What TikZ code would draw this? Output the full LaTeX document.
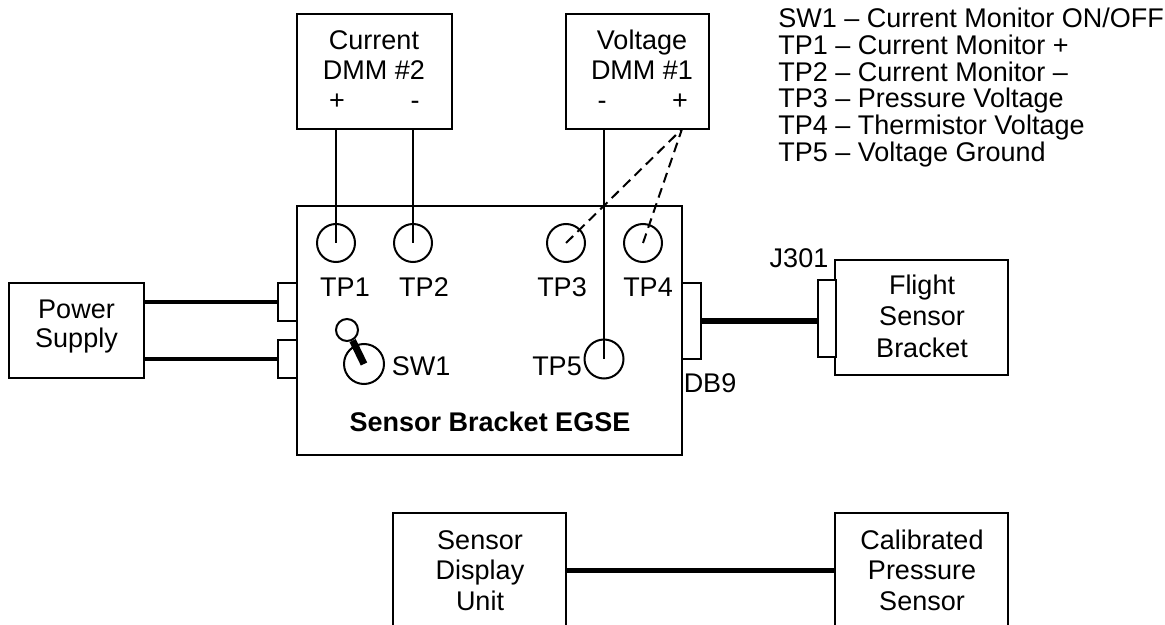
\documentclass[tikz,border=0pt]{standalone}
\usepackage{fontspec}
\setmainfont{Liberation Sans}
\usetikzlibrary{fit}
\begin{document}
\begin{tikzpicture}[x=0.5pt,y=-0.5pt,
  font=\fontsize{13.5}{15}\selectfont,
  box/.style={draw, line width=1pt, inner sep=0pt},
  txt/.style={anchor=base, inner sep=0pt},
  lgd/.style={anchor=base west, inner sep=0pt},
  tp/.style={circle, draw, line width=1pt, minimum size=19pt, inner sep=0pt},
  wire/.style={line width=1pt},
  pwr/.style={line width=2pt},
  dbl/.style={line width=3pt},
  bline/.style={line width=2.5pt},
  dwire/.style={line width=1pt, dash pattern=on 5pt off 3pt}]
\useasboundingbox (0,0) rectangle (1165,625);
\clip (0,0) rectangle (1165,625);

% boxes
\node[box, fit={(9,283) (144,378)}] (ps) {};
\node[box, fit={(297,14) (452,129)}] (dmm2) {};
\node[box, fit={(566,14) (709,129)}] (dmm1) {};
\node[box, fit={(297,206) (682,455)}] (egse) {};
\node[box, fit={(835,260) (1008,375)}] (fsb) {};
\node[box, fit={(393,513) (566,700)}] (sdu) {};
\node[box, fit={(835,513) (1008,700)}] (cps) {};

% connectors
\node[box, fill=white, fit={(278,283) (297,321)}] (c1) {};
\node[box, fill=white, fit={(278,340) (297,378)}] (c2) {};
\node[box, fill=white, fit={(682,283) (701,359)}] (db9) {};
\node[box, fill=white, fit={(818,280) (836,357)}] (j301) {};

% test points
\node[tp] (tp1) at (336,243) {};
\node[tp] (tp2) at (413,243) {};
\node[tp] (tp3) at (566,243) {};
\node[tp] (tp4) at (643,243) {};
\node[tp, minimum size=19.5pt] (tp5) at (604,359) {};

% switch
\node[circle, draw, line width=1pt, minimum size=20pt, inner sep=0pt] (sw) at (364,364) {};
\node[circle, draw, line width=1pt, minimum size=11pt, inner sep=0pt] (knob) at (347,330) {};
\draw[line width=3.5pt] (knob.-62) -- (sw.center);

% texts
\node[txt] (ps1) at (76.5,318) {Power};
\node[txt] (ps2) at (76.5,347) {Supply};
\node[txt] (d21) at (374,50) {Current};
\node[txt] (d22) at (374,80) {DMM \#2};
\node[txt] (d2p) at (337,110) {+};
\node[txt] (d2m) at (415,110) {-};
\node[txt] (d11) at (642,50) {Voltage};
\node[txt] (d12) at (642,80) {DMM \#1};
\node[txt] (d1m) at (602,110) {-};
\node[txt] (d1p) at (680,110) {+};
\node[txt] (tp1l) at (345,297) {TP1};
\node[txt] (tp2l) at (424,297) {TP2};
\node[txt] (tp3l) at (562,297) {TP3};
\node[txt] (tp4l) at (648,297) {TP4};
\node[txt] (sw1l) at (421,375) {SW1};
\node[txt] (tp5l) at (557,375) {TP5};
\node[txt, font=\fontsize{13.5}{15}\selectfont\bfseries] (egt) at (490,431) {Sensor Bracket EGSE};
\node[txt] (j301l) at (799,268) {J301};
\node[txt] (db9l) at (710,392) {DB9};
\node[txt] (f1) at (922,294) {Flight};
\node[txt] (f2) at (922,325) {Sensor};
\node[txt] (f3) at (922,357) {Bracket};
\node[txt] (s1) at (480,549) {Sensor};
\node[txt] (s2) at (480,579) {Display};
\node[txt] (s3) at (480,610) {Unit};
\node[txt] (p1) at (922,549) {Calibrated};
\node[txt] (p2) at (922,579) {Pressure};
\node[txt] (p3) at (922,610) {Sensor};

% legend
\node[lgd] (lg1) at (778,28) {SW1 – Current Monitor ON/OFF};
\node[lgd] (lg2) at (778,55) {TP1 – Current Monitor +};
\node[lgd] (lg3) at (778,82) {TP2 – Current Monitor –};
\node[lgd] (lg4) at (778,108) {TP3 – Pressure Voltage};
\node[lgd] (lg5) at (778,135) {TP4 – Thermistor Voltage};
\node[lgd] (lg6) at (778,162) {TP5 – Voltage Ground};

% wires
\draw[wire] (tp1.center |- dmm2.south) -- (tp1.center);
\draw[wire] (tp2.center |- dmm2.south) -- (tp2.center);
\draw[wire] (tp5.center |- dmm1.south) -- (tp5.center);
\coordinate (vplus) at (682,129);
\draw[dwire] (tp3.center) -- (vplus);
\draw[dwire] (tp4.center) -- (vplus);

\draw[pwr] (c1.west -| ps.east) -- (c1.west);
\draw[pwr] (c2.west -| ps.east) -- (c2.west);
\draw[dbl] (db9.east) -- (db9.east -| j301.west);
\coordinate (bl) at (0,570);
\draw[bline] (sdu.east |- bl) -- (cps.west |- bl);
\end{tikzpicture}
\end{document}
